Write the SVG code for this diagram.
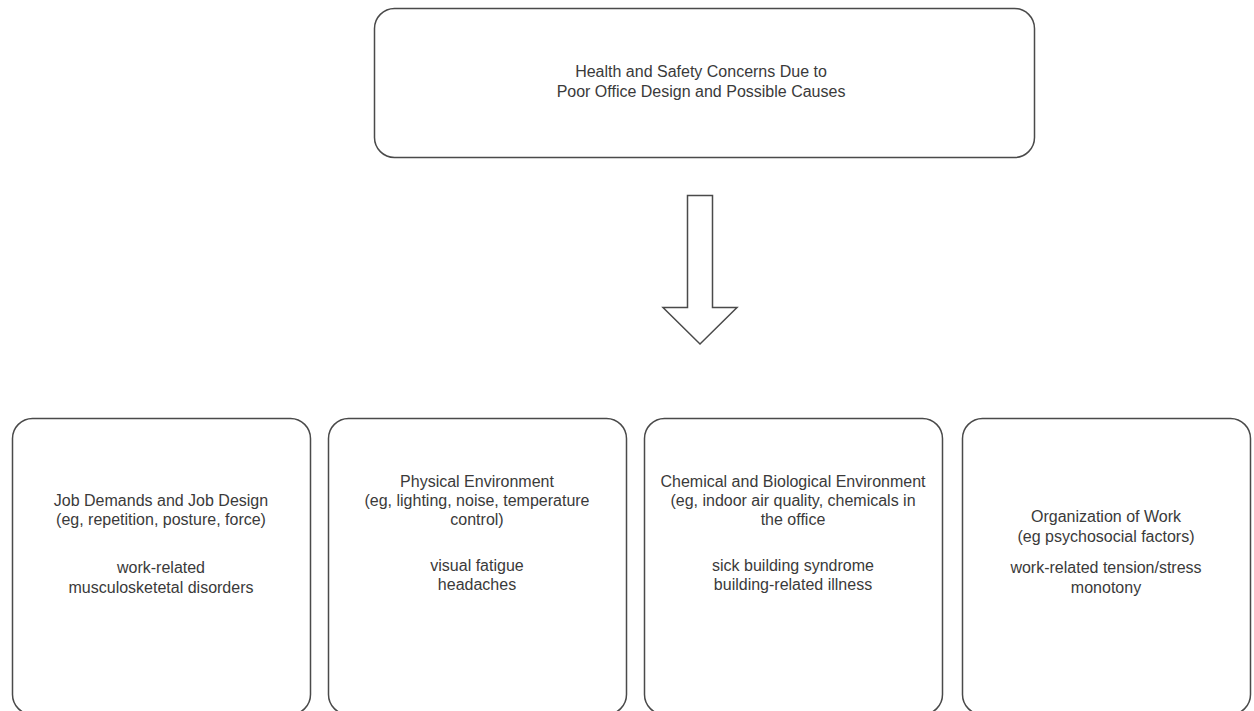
<svg xmlns="http://www.w3.org/2000/svg" width="1254" height="711" viewBox="0 0 1254 711">
<style>
.box{fill:#fff;stroke:#4a4a4a;stroke-width:1.5}
.t{font-family:"Liberation Sans",Arial,sans-serif;font-size:16px;fill:#3a3a3a;text-anchor:middle}
</style>
<rect width="1254" height="711" fill="#fff"/>
<g id="top">
<rect class="box" x="374.5" y="8.5" width="660" height="149" rx="20"/>
<text class="t" x="701" y="77">Health and Safety Concerns Due to</text>
<text class="t" x="701" y="97">Poor Office Design and Possible Causes</text>
</g>
<g id="connectors">
<path d="M687.5 195.5 H712.5 V307.5 H737 L700 344 L663 307.5 H687.5 Z" fill="#fff" stroke="#4a4a4a" stroke-width="1.5"/>
</g>
<g id="job">
<rect class="box" x="12.5" y="418.5" width="298" height="296" rx="20"/>
<text class="t" x="161" y="506">Job Demands and Job Design</text>
<text class="t" x="161" y="525">(eg, repetition, posture, force)</text>
<text class="t" x="161" y="573">work-related</text>
<text class="t" x="161" y="593">musculosketetal disorders</text>
</g>
<g id="physical">
<rect class="box" x="328.5" y="418.5" width="298" height="296" rx="20"/>
<text class="t" x="477" y="487">Physical Environment</text>
<text class="t" x="477" y="506">(eg, lighting, noise, temperature</text>
<text class="t" x="477" y="525">control)</text>
<text class="t" x="477" y="571">visual fatigue</text>
<text class="t" x="477" y="590">headaches</text>
</g>
<g id="chemical">
<rect class="box" x="644.5" y="418.5" width="298" height="296" rx="20"/>
<text class="t" x="793" y="487">Chemical and Biological Environment</text>
<text class="t" x="793" y="506">(eg, indoor air quality, chemicals in</text>
<text class="t" x="793" y="525">the office</text>
<text class="t" x="793" y="571">sick building syndrome</text>
<text class="t" x="793" y="590">building-related illness</text>
</g>
<g id="organization">
<rect class="box" x="962.5" y="418.5" width="288" height="296" rx="20"/>
<text class="t" x="1106" y="522">Organization of Work</text>
<text class="t" x="1106" y="542">(eg psychosocial factors)</text>
<text class="t" x="1106" y="573">work-related tension/stress</text>
<text class="t" x="1106" y="593">monotony</text>
</g>
</svg>
